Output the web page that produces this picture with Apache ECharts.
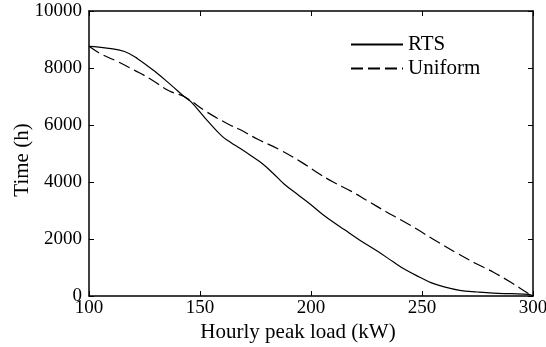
<!DOCTYPE html>
<html>
<head>
<meta charset="utf-8">
<script src="https://cdn.jsdelivr.net/npm/echarts@6/dist/echarts.min.js"></script>
<style>
  html, body { margin: 0; padding: 0; background: #fff; }
  #chart { width: 546px; height: 347px; }
</style>
</head>
<body>
<div id="chart"></div>
<script>
// load duration curves
const rtsLoad = [100, 108, 116, 122, 130, 137, 143, 146, 153, 160, 164, 168, 173, 178, 183, 188, 194, 200, 205, 209, 215, 222, 230, 237, 243, 249, 254, 260, 267, 275, 282, 290, 298, 300];
const rtsHours = [8760, 8700, 8580, 8320, 7860, 7400, 6990, 6810, 6180, 5600, 5380, 5180, 4920, 4650, 4300, 3920, 3560, 3200, 2880, 2650, 2330, 1960, 1570, 1200, 900, 660, 470, 320, 200, 140, 100, 80, 60, 0];
const uniformLoad = [100, 105, 113, 121, 128, 136, 143, 153, 163, 168, 176, 186, 196, 204, 210, 218, 225, 234, 241, 248, 257, 266, 274, 282, 290, 298, 300];
const uniformHours = [8760, 8510, 8220, 7900, 7600, 7200, 6990, 6460, 6020, 5840, 5500, 5130, 4680, 4270, 4000, 3680, 3360, 2950, 2650, 2330, 1900, 1490, 1150, 843, 480, 84, 0];

const xTicks = { min: 100, max: 300, interval: 50 };
const yTicks = { min: 0, max: 10000, interval: 2000 };

const font = 'Liberation Serif';
const chart = echarts.init(document.getElementById('chart'));

const pairs = (xs, ys) => xs.map((x, i) => [x, ys[i]]);

const axisLine = { show: true, onZero: false, lineStyle: { color: '#000', width: 1.5 } };
const tick = { show: true, inside: true, length: 5, lineStyle: { color: '#000', width: 1 } };
const plain = (v) => String(v);

const option = {
  animation: false,
  backgroundColor: '#fff',
  textStyle: { fontFamily: font, color: '#000' },
  grid: { left: 89, right: 13, top: 11, bottom: 51, outerBoundsMode: 'none', containLabel: false },
  legend: {
    orient: 'vertical',
    left: 350,
    top: 34,
    padding: 0,
    itemWidth: 52,
    itemHeight: 14,
    itemGap: 3,
    itemStyle: { opacity: 0 },
    textStyle: { fontFamily: font, fontSize: 21, color: '#000' },
    data: ['RTS', 'Uniform'],
  },
  xAxis: [
    {
      type: 'value',
      ...xTicks,
      name: 'Hourly peak load (kW)',
      nameLocation: 'middle',
      nameGap: 26,
      nameMoveOverlap: false,
      nameTextStyle: { fontFamily: font, fontSize: 21, color: '#000', padding: [0, 26, 0, 0] },
      axisLine,
      axisTick: tick,
      axisLabel: { fontFamily: font, fontSize: 19, color: '#000', margin: 3, formatter: plain },
      splitLine: { show: false },
    },
    {
      type: 'value',
      position: 'top',
      ...xTicks,
      axisLine,
      axisTick: tick,
      axisLabel: { show: false },
      splitLine: { show: false },
    },
  ],
  yAxis: [
    {
      type: 'value',
      ...yTicks,
      name: 'Time (h)',
      nameLocation: 'middle',
      nameGap: 56,
      nameMoveOverlap: false,
      nameTextStyle: { fontFamily: font, fontSize: 21, color: '#000', padding: [0, 13, 0, 0] },
      axisLine,
      axisTick: tick,
      axisLabel: { fontFamily: font, fontSize: 19, color: '#000', margin: 7, formatter: plain },
      splitLine: { show: false },
    },
    {
      type: 'value',
      position: 'right',
      ...yTicks,
      axisLine,
      axisTick: tick,
      axisLabel: { show: false },
      splitLine: { show: false },
    },
  ],
  series: [
    {
      name: 'RTS',
      type: 'line',
      symbol: 'none',
      smooth: 0.4,
      data: pairs(rtsLoad, rtsHours),
      lineStyle: { color: '#000', width: 1.2, type: 'solid' },
      itemStyle: { color: '#000' },
    },
    {
      name: 'Uniform',
      type: 'line',
      symbol: 'none',
      smooth: 0.4,
      data: pairs(uniformLoad, uniformHours),
      lineStyle: { color: '#000', width: 1.2, type: [12, 5] },
      itemStyle: { color: '#000' },
    },
  ],
};

chart.setOption(option);
</script>
</body>
</html>
